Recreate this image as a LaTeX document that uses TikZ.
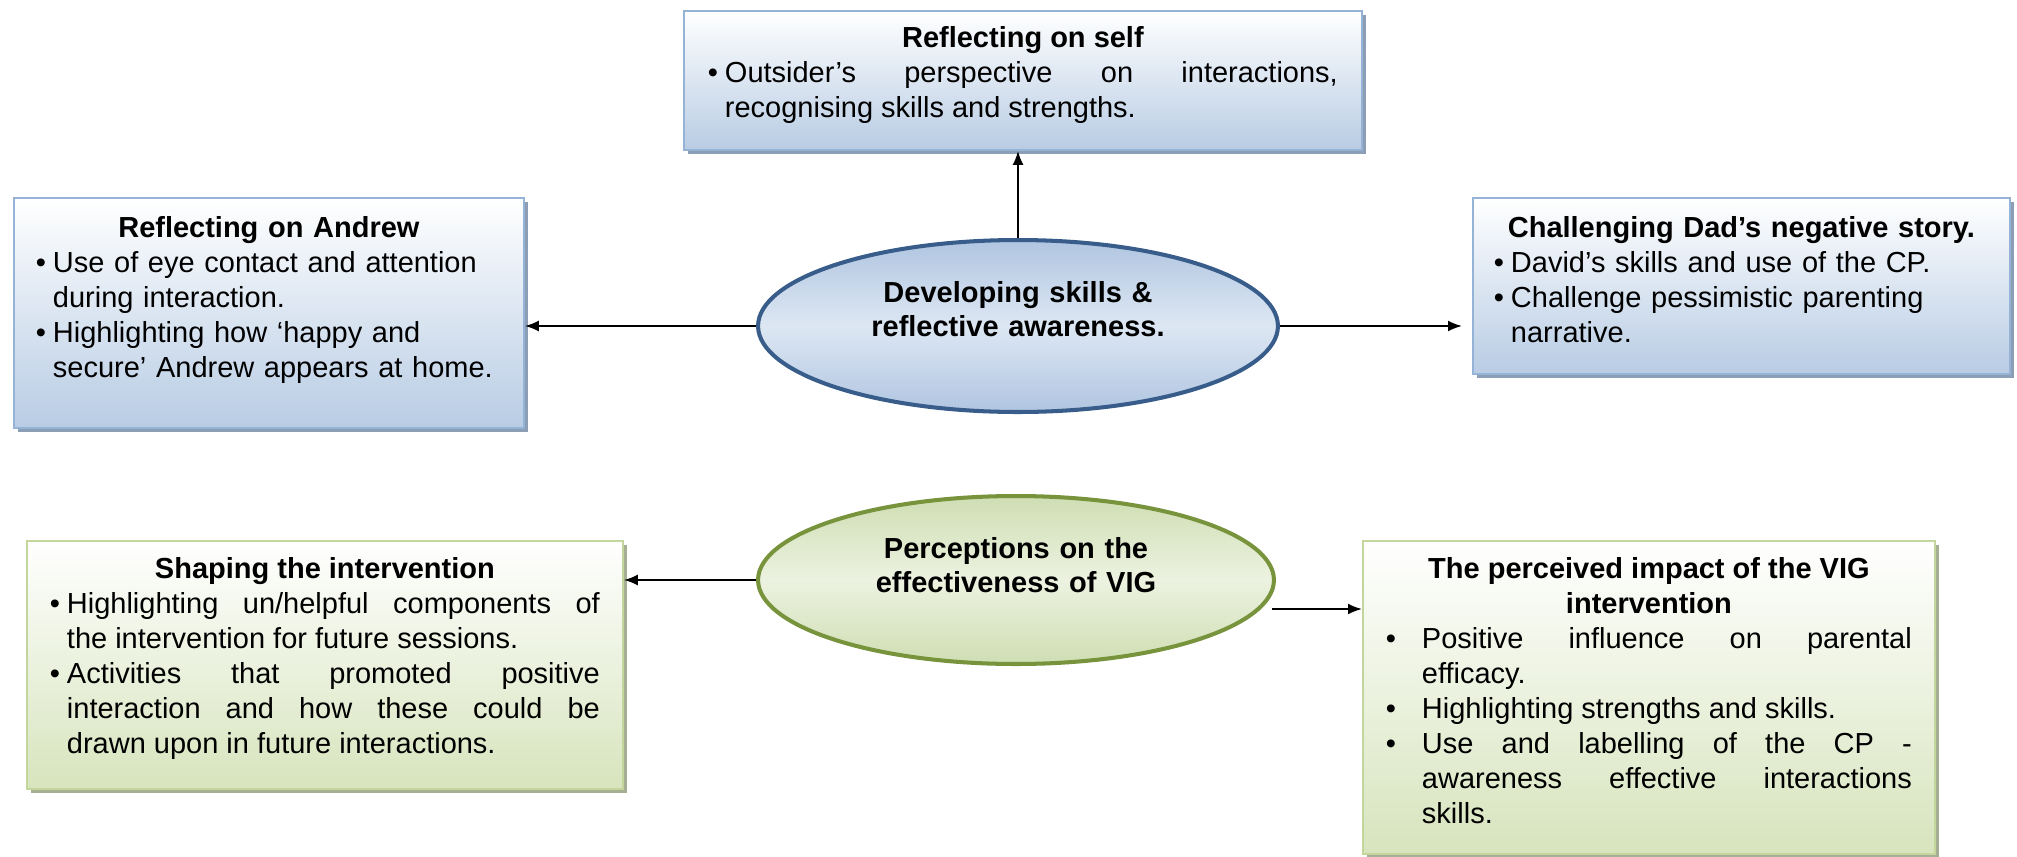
\documentclass[tikz,border=0pt]{standalone}
\usepackage{fontspec}
\setmainfont{Liberation Sans}
\usetikzlibrary{arrows,arrows.meta,shapes,shadows}
\definecolor{boxline}{RGB}{149,179,215}
\definecolor{boxfill}{RGB}{184,204,228}
\definecolor{boxshade}{RGB}{140,158,182}
\definecolor{greenline}{RGB}{195,214,155}
\definecolor{greenfill}{RGB}{215,228,189}
\definecolor{greenshade}{RGB}{165,175,148}
\definecolor{ovalblue}{RGB}{56,93,138}
\definecolor{ovallight}{RGB}{221,231,243}
\definecolor{ovaldark}{RGB}{176,197,225}
\definecolor{ovalgreen}{RGB}{119,147,60}
\definecolor{ovalglight}{RGB}{236,242,224}
\definecolor{ovalgdark}{RGB}{207,222,179}
\hyphenpenalty=10000
\tolerance=10000
\hbadness=10000
\newcommand\bpoint[1][0.34cm]{\par\hangindent=#1\hangafter=1\noindent\makebox[#1][l]{\textbullet}\ignorespaces}
\tikzset{txt/.style={font=\fontsize{16.5}{19.9}\selectfont, inner ysep=0pt, anchor=north west}}
\tikzset{bluebox/.style={txt, draw=boxline, line width=1.1pt, top color=white, bottom color=boxfill,
    drop shadow={shadow xshift=0.08cm, shadow yshift=-0.08cm, fill=boxshade, opacity=1}}}
\tikzset{greenbox/.style={txt, draw=greenline, line width=1.1pt, top color=white, bottom color=greenfill,
    drop shadow={shadow xshift=0.08cm, shadow yshift=-0.08cm, fill=greenshade, opacity=1}}}
\tikzset{oval/.style={ellipse, line width=2.3pt, align=center, inner sep=0pt, shading angle=-45,
    font=\bfseries\fontsize{16.5}{19.9}\selectfont, text width=6.6cm, text height=0.44cm}}
\tikzset{link/.style={-{Latex[length=0.28cm,width=0.22cm]}, line width=1.1pt}}

\begin{document}
\begin{tikzpicture}[x=0.02cm,y=-0.02cm]
    \useasboundingbox (0,0) rectangle (2017,856);
    % upper theme
    \node [bluebox,text width=12.6cm,inner xsep=0.48cm,text height=0.74cm,text depth=2.04cm,align=justify] (selfbox) at (683,10)
        {{\centering\bfseries Reflecting on self\par}
         \bpoint Outsider’s perspective on interactions,\linebreak recognising skills and strengths.\par};
    \node [bluebox,text width=9.32cm,inner xsep=0.44cm,text height=0.8cm,text depth=3.8cm,align=left] (andrewbox) at (13,197)
        {{\centering\bfseries Reflecting on Andrew\par}
         \bpoint Use of eye contact and attention\newline during interaction.
         \bpoint Highlighting how ‘happy and\newline secure’ Andrew appears at home.\par};
    \node [bluebox,text width=9.9cm,inner xsep=0.42cm,text height=0.8cm,text depth=2.72cm,align=left] (dadbox) at (1472,197)
        {{\centering\bfseries Challenging Dad’s negative story.\par}
         \bpoint David’s skills and use of the CP.
         \bpoint Challenge pessimistic parenting\newline narrative.\par};
    \node [oval,draw=ovalblue,top color=ovaldark,bottom color=ovaldark,middle color=ovallight,
        minimum width=10.4cm,minimum height=3.44cm,text depth=1.4cm] (devel) at (1018,326)
        {Developing skills \&\\reflective awareness.};
    \draw [link] (devel.north) -- (devel.north |- selfbox.south);
    \draw [link] (devel.west) -- (devel.west -| andrewbox.east);
    \draw [link,shorten >=0.2cm] (devel.east) -- (devel.east -| dadbox.west);
    % lower theme
    \node [greenbox,text width=11cm,inner xsep=0.46cm,text height=0.76cm,text depth=4.2cm,align=justify] (shapingbox) at (26,540)
        {{\centering\bfseries Shaping the intervention\par}
         \bpoint Highlighting un/helpful components of\linebreak the intervention for future sessions.
         \bpoint Activities that promoted positive\linebreak interaction and how these could be\linebreak drawn upon in future interactions.\par};
    \node [greenbox,text width=10.52cm,inner xsep=0.46cm,text height=0.76cm,text depth=5.5cm,align=justify] (impactbox) at (1362,540)
        {{\centering\bfseries The perceived impact of the VIG\\ intervention\par}
         \bpoint[0.72cm] Positive influence on parental\linebreak efficacy.
         \bpoint[0.72cm] Highlighting strengths and skills.
         \bpoint[0.72cm] Use and labelling of the CP -\linebreak awareness effective interactions\linebreak skills.\par};
    \node [oval,draw=ovalgreen,top color=ovalgdark,bottom color=ovalgdark,middle color=ovalglight,
        minimum width=10.32cm,minimum height=3.36cm,text depth=1.32cm] (percep) at (1016,580)
        {Perceptions on the\\effectiveness of VIG};
    \coordinate (impout) at (1272,609);
    \draw [link] (percep.west) -- (percep.west -| shapingbox.east);
    \draw [link] (impout) -- (impout -| impactbox.west);
\end{tikzpicture}
\end{document}
